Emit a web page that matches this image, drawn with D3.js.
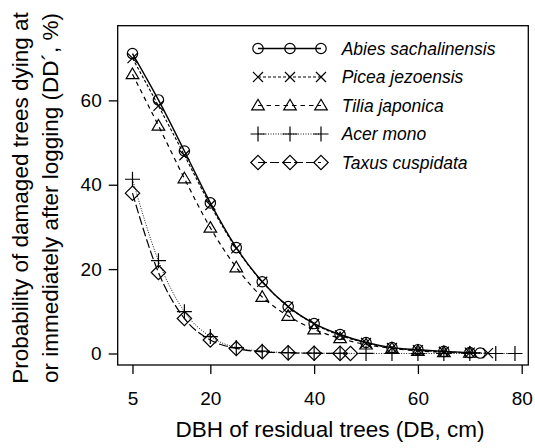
<!DOCTYPE html>
<html><head><meta charset="utf-8">
<script src="https://cdn.jsdelivr.net/npm/d3@7"></script>
<style>body{margin:0;background:#fff}svg{display:block}text{font-family:"Liberation Sans",Arial,sans-serif;fill:#000}</style>
</head><body><svg id="c" width="535" height="448"></svg>
<script>
const xTicks = [5, 20, 40, 60, 80];
const yTicks = [0, 20, 40, 60];
const speciesNames = ["Abies sachalinensis", "Picea jezoensis", "Tilia japonica", "Acer mono", "Taxus cuspidata"];
const abiesX = [5,10,15,20,25,30,35,40,45,50,55,60,65,70,72];
const abiesY = [71.1,60.1,48.0,35.7,25.1,17.0,11.1,7.1,4.5,2.6,1.4,0.9,0.5,0.2,0.1];
const piceaX = [5,10,15,20,25,30,35,40,45,50,55,60,65,70,73.5];
const piceaY = [70.0,58.7,47.0,35.2,24.9,17.0,11.1,7.0,4.3,2.5,1.3,0.8,0.4,0.2,0.1];
const tiliaX = [5,10,15,20,25,30,35,40,45,50,55,60,65,70];
const tiliaY = [66.2,54.0,41.5,29.8,20.4,13.4,8.9,5.7,3.6,2.1,1.2,0.6,0.3,0.15];
const acerX = [5,10,15,20,25,30,35,40,45,50,55,60,65,70,75,78.7];
const acerY = [41.3,22.0,9.9,4.0,1.4,0.55,0.2,0.08,0.03,0.01,0,0,0,0,0,0];
const taxusX = [5,10,15,20,25,30,35,40,45,47];
const taxusY = [38.0,19.2,8.3,3.2,1.2,0.4,0.15,0.05,0.02,0.01];

const svg = d3.select("#c");
const L = 117.7, R = 528.3, T = 25.7, B = 365;
const x = d3.scaleLinear().domain([2.15, 81.27]).range([L, R]);
const y = d3.scaleLinear().domain([-2.73, 77.7]).range([B, T]);

const sym = {
  circle: (s) => s.append("circle").attr("r", 5.2),
  times: (s) => s.append("path").attr("d", "M-5,-5L5,5M-5,5L5,-5"),
  triangle: (s) => s.append("path").attr("d", "M0,-6.2L6.3,4.4L-6.3,4.4Z"),
  plus: (s) => s.append("path").attr("d", "M-7.5,0L7.5,0M0,-7.5L0,7.5"),
  diamond: (s) => s.append("path").attr("d", "M0,-7.2L7.2,0L0,7.2L-7.2,0Z")
};
const series = [
  {name: speciesNames[0], xs: abiesX, ys: abiesY, dash: null, sym: "circle", w: 1.4},
  {name: speciesNames[1], xs: piceaX, ys: piceaY, dash: "3,2", sym: "times", w: 1.1},
  {name: speciesNames[2], xs: tiliaX, ys: tiliaY, dash: "4.5,4", sym: "triangle", w: 1.2},
  {name: speciesNames[3], xs: acerX, ys: acerY, dash: "1,1.5", sym: "plus", w: 0.9},
  {name: speciesNames[4], xs: taxusX, ys: taxusY, dash: "9,3", sym: "diamond", w: 1.2}
];

// box
svg.append("rect").attr("x", L).attr("y", T).attr("width", R - L).attr("height", B - T)
  .attr("fill", "none").attr("stroke", "#000").attr("stroke-width", 1.3);

// x axis
const xa = svg.append("g").attr("transform", `translate(0,${B})`)
  .call(d3.axisBottom(x).tickValues(xTicks).tickSize(9).tickPadding(17.5).tickFormat(d3.format("d")));
xa.select(".domain").remove();
xa.selectAll("line").attr("stroke-width", 1.3);
xa.selectAll("text").style("font-size", "19px").style("font-family", "Liberation Sans, Arial, sans-serif").attr("fill", "#000");

const ya = svg.append("g").attr("transform", `translate(${L},0)`)
  .call(d3.axisLeft(y).tickValues(yTicks).tickSize(9).tickPadding(7).tickFormat(d3.format("d")));
ya.select(".domain").remove();
ya.selectAll("line").attr("stroke-width", 1.3);
ya.selectAll("text").style("font-size", "19px").style("font-family", "Liberation Sans, Arial, sans-serif").attr("fill", "#000");

// titles
svg.append("text").attr("x", 330).attr("y", 437).attr("text-anchor", "middle")
  .style("font-size", "22.5px").text("DBH of residual trees (DB, cm)");
svg.append("text").attr("transform", "translate(28,198) rotate(-90)").attr("text-anchor", "middle")
  .style("font-size", "22.5px").text("Probability of damaged trees dying at");
svg.append("text").attr("transform", "translate(58,198) rotate(-90)").attr("text-anchor", "middle")
  .style("font-size", "22.5px").text("or immediately after logging (DD\u00B4, %)");

// lines
const line = d3.line().x(d => x(d[0])).y(d => y(d[1])).curve(d3.curveMonotoneX);
series.forEach(s => {
  const pts = s.xs.map((v, i) => [v, s.ys[i]]);
  svg.append("path").datum(pts).attr("d", line).attr("fill", "none").attr("stroke", "#000")
    .attr("stroke-width", s.w).attr("stroke-dasharray", s.dash);
  pts.forEach(p => {
    const g = svg.append("g").attr("transform", `translate(${x(p[0])},${y(p[1])})`)
      .attr("fill", "none").attr("stroke", "#000").attr("stroke-width", 1.2);
    sym[s.sym](g);
  });
});

// legend
const legX = [258, 290, 321];
series.forEach((s, i) => {
  const cy = 48.5 + i * 28.5;
  svg.append("line").attr("x1", legX[0]).attr("x2", legX[2]).attr("y1", cy).attr("y2", cy)
    .attr("stroke", "#000").attr("stroke-width", s.w).attr("stroke-dasharray", s.dash);
  legX.forEach(lx => {
    const g = svg.append("g").attr("transform", `translate(${lx},${cy})`)
      .attr("fill", "none").attr("stroke", "#000").attr("stroke-width", 1.2);
    sym[s.sym](g);
  });
  svg.append("text").attr("x", 341.7).attr("y", cy).attr("dy", "0.35em")
    .style("font-size", "17.5px").style("font-style", "italic").text(s.name);
});
</script></body></html>
